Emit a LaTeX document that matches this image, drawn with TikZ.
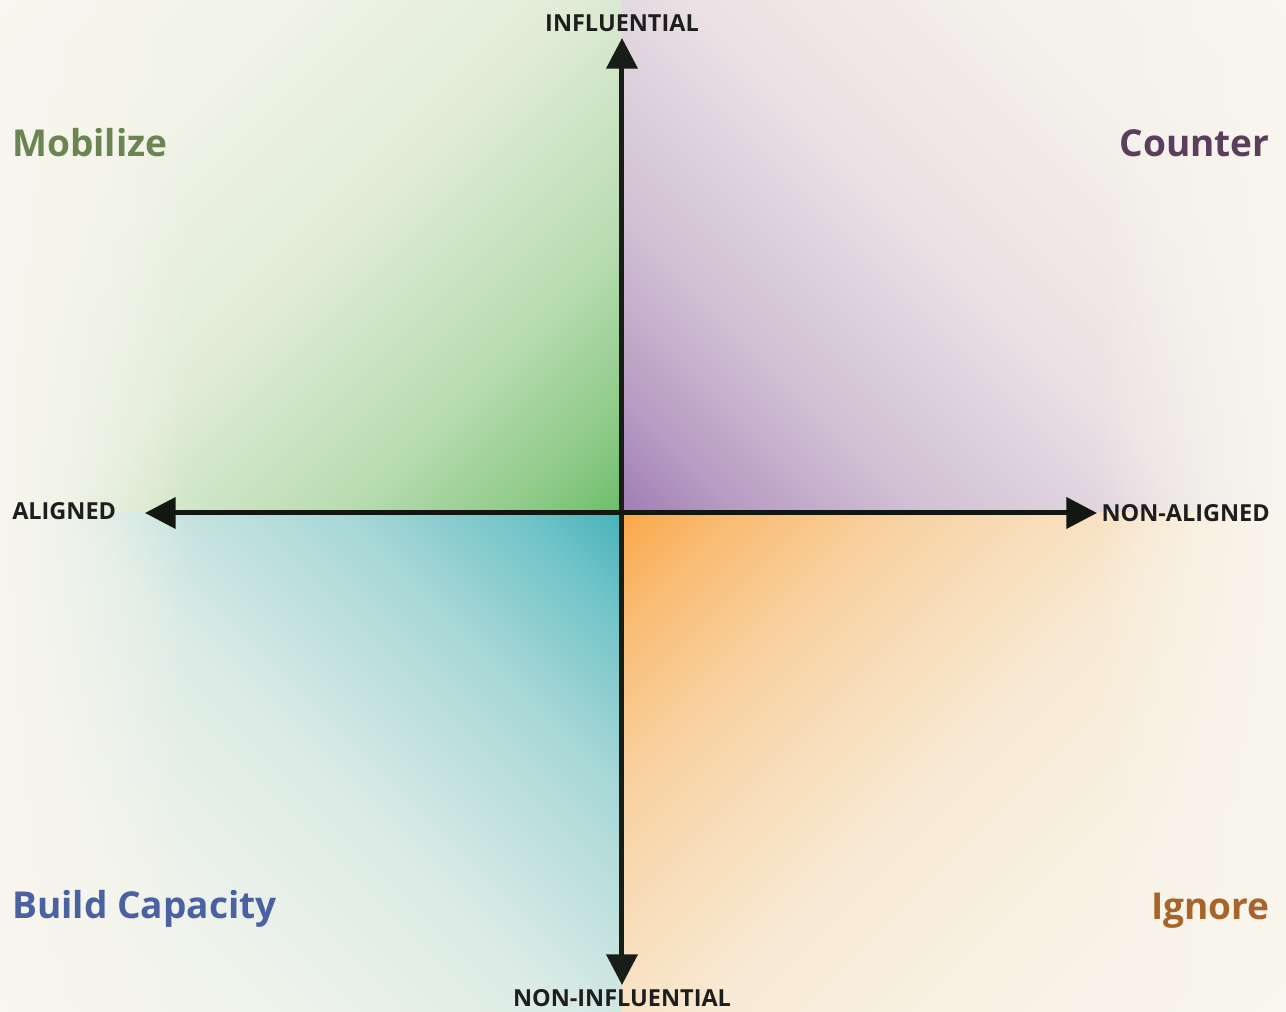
\documentclass[tikz,border=0pt]{standalone}
\usepackage{fontspec}
\setmainfont{Open Sans}
\usetikzlibrary{arrows.meta,fadings}

\definecolor{bgcream}{HTML}{F8F6EE}
\definecolor{axisink}{HTML}{121712}
\definecolor{axistip}{HTML}{2E332E}
\definecolor{labelink}{HTML}{1E1E1E}
\definecolor{qgreen}{HTML}{6CBD68}
\definecolor{qpurple}{HTML}{A07CB4}
\definecolor{qteal}{HTML}{45B3BB}
\definecolor{qorange}{HTML}{F9A849}
\definecolor{mobgreen}{HTML}{6A8552}
\definecolor{ctrpurple}{HTML}{5B3D5E}
\definecolor{bldblue}{HTML}{4A62A2}
\definecolor{ignbrown}{HTML}{A8652B}

% strong colour at 25bp (centre), cream at 75bp (far corner)
\newcommand{\quadfade}[2]{%
  \pgfdeclarehorizontalshading{#1}{100bp}{color(0bp)=(#2); color(25bp)=(#2);
    color(30bp)=(#2!74!bgcream); color(37.5bp)=(#2!45!bgcream);
    color(50bp)=(#2!16!bgcream); color(62.5bp)=(#2!5!bgcream);
    color(75bp)=(bgcream); color(100bp)=(bgcream)}}
\quadfade{fadegreen}{qgreen}
\quadfade{fadepurple}{qpurple}
\quadfade{fadeteal}{qteal}
\quadfade{fadeorange}{qorange}

\begin{document}
\begin{tikzpicture}[x=0.75pt, y=0.75pt,
        axislabel/.style={inner sep=0pt, text=labelink, font=\bfseries\fontsize{17.6}{20}\selectfont},
        quadlabel/.style={inner sep=0pt, font=\bfseries\fontsize{27.8}{32}\selectfont},
        axis/.style={draw=axisink, line width=3.75pt},
        tip/.style={{Triangle[length=23pt,width=23pt]}-{Triangle[length=23pt,width=23pt]}}]
        \path[use as bounding box, fill=bgcream] (-622,-499) rectangle (664,513);

        % quadrant fades
        \begin{scope}
          \clip (0,0) rectangle (-622,513);
          \begin{scope}[transform canvas={rotate=135}]
            \shade[shading=fadegreen] (0,-900) rectangle (803,900);
          \end{scope}
        \end{scope}
        \begin{scope}
          \clip (0,0) rectangle (664,513);
          \begin{scope}[transform canvas={rotate=45}]
            \shade[shading=fadepurple] (0,-900) rectangle (832,900);
          \end{scope}
        \end{scope}
        \begin{scope}
          \clip (0,0) rectangle (-622,-499);
          \begin{scope}[transform canvas={rotate=225}]
            \shade[shading=fadeteal] (0,-900) rectangle (793,900);
          \end{scope}
        \end{scope}
        \begin{scope}
          \clip (0,0) rectangle (664,-499);
          \begin{scope}[transform canvas={rotate=-45}]
            \shade[shading=fadeorange] (0,-900) rectangle (822,900);
          \end{scope}
        \end{scope}
        % soft side edges
        \fill[bgcream, path fading=east] (-622,-499) rectangle (-432,513);
        \fill[bgcream, path fading=west] (474,-499) rectangle (664,513);

        % axes
        \coordinate (uptip) at (0,475);
        \coordinate (downtip) at (0,-472);
        \coordinate (lefttip) at (-477,0);
        \coordinate (righttip) at (475,0);
        \draw[axis, tip, draw=axisink!80!axistip] (downtip) -- (uptip);
        \draw[axis, tip] (lefttip) -- (righttip);

        \node[axislabel, anchor=base] (infl) at (0,481) {INFLUENTIAL};
        \node[axislabel, anchor=base] (noninfl) at (0,-494) {NON-INFLUENTIAL};
        \node[axislabel, anchor=base west] (aligned) at (-610,-7) {ALIGNED};
        \node[axislabel, anchor=base east] (nonaligned) at (648,-9) {NON-ALIGNED};

        \node[quadlabel, text=mobgreen, anchor=base west] (mobilize) at (-610,356) {Mobilize};
        \node[quadlabel, text=ctrpurple, anchor=base east] (counter) at (648,356) {Counter};
        \node[quadlabel, text=bldblue, anchor=base west] (build) at (-610,-406) {Build Capacity};
        \node[quadlabel, text=ignbrown, anchor=base east] (ignore) at (648,-407) {Ignore};
      \end{tikzpicture}
\end{document}
